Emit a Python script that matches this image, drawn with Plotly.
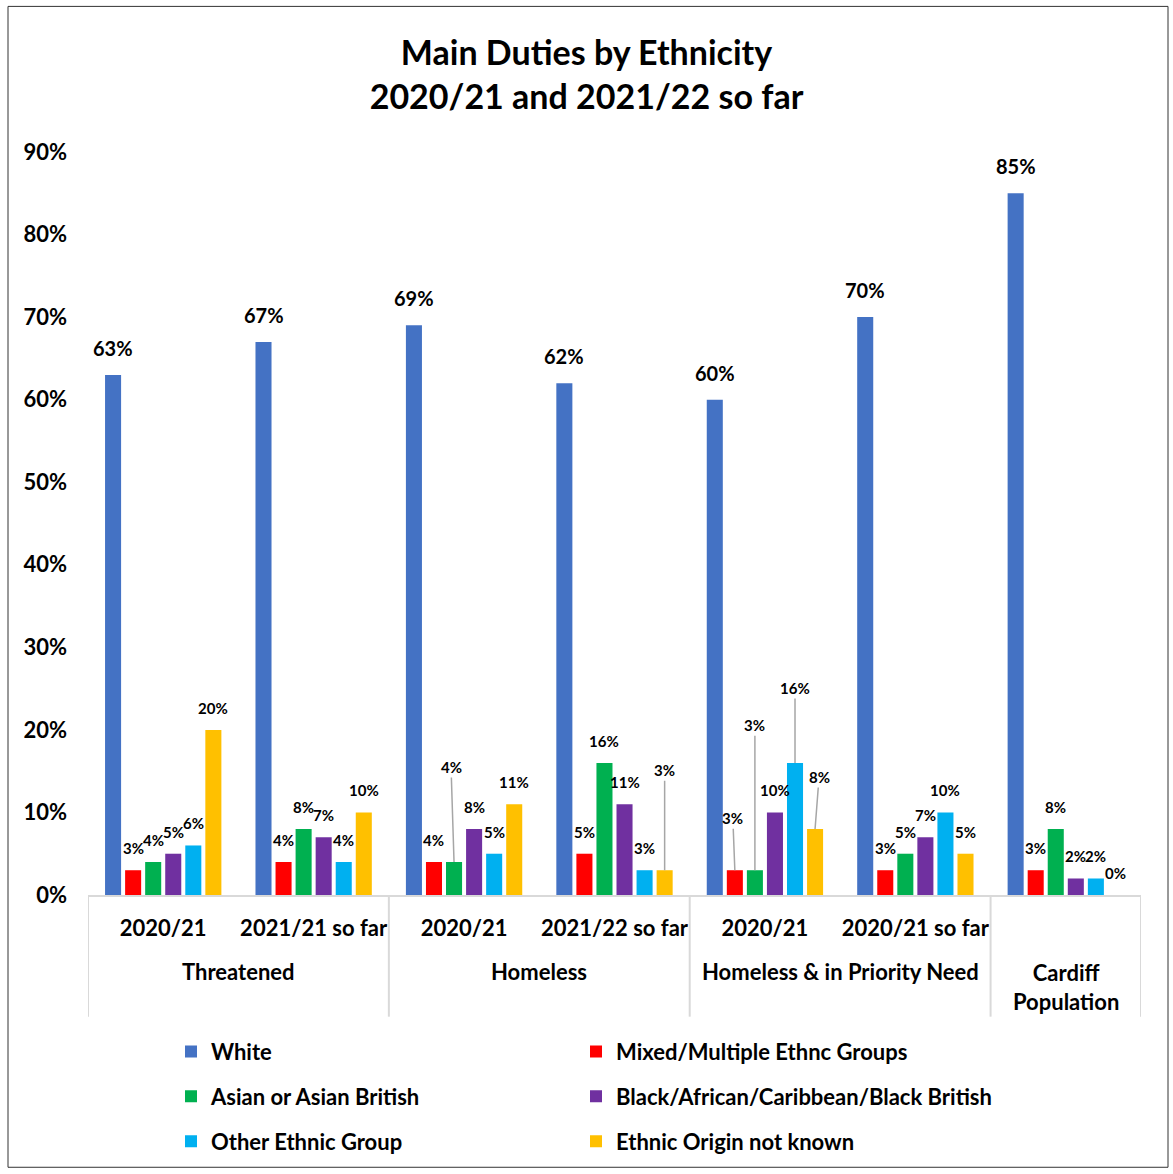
import plotly.graph_objects as go

# ---------------- data ----------------
groups = ["Threatened", "Threatened", "Homeless", "Homeless",
          "Homeless & in Priority Need", "Homeless & in Priority Need",
          "Cardiff<br>Population"]
periods = ["2020/21", "2021/21 so far", "2020/21", "2021/22 so far",
           "2020/21", "2020/21 so far", ""]

series_names = ["White", "Mixed/Multiple Ethnc Groups", "Asian or Asian British",
                "Black/African/Caribbean/Black British", "Other Ethnic Group",
                "Ethnic Origin not known"]
white = [63, 67, 69, 62, 60, 70, 85]
mixed = [3, 4, 4, 5, 3, 3, 3]
asian = [4, 8, 4, 16, 3, 5, 8]
black = [5, 7, 8, 11, 10, 7, 2]
other = [6, 4, 5, 3, 16, 10, 2]
unknown = [20, 10, 11, 3, 8, 5, 0]
series_values = [white, mixed, asian, black, other, unknown]

y_ticks = [0, 10, 20, 30, 40, 50, 60, 70, 80, 90]
y_tick_labels = [f"{v}%" for v in y_ticks]

# ---------------- style ----------------
colors = ["#4472C4", "#FF0000", "#00B050", "#7030A0", "#00B0F0", "#FFC000"]
FONT = "Lato"
W, H = 1173, 1174
L, R, T, B = 88, 32, 152, 277
PW, PH = W - L - R, H - T - B
BARGAP = 0.2
NSER = len(series_names)

# legend slot (pixel) for each series: two columns, three rows
legend_cols_px = [171, 576]
legend_rows_px = [1054, 1099, 1144]

# labels with leader lines: (category index, series index) -> (ax, ay) in px
leader = {(2, 2): (-3, -95), (3, 5): (0, -100), (4, 1): (-2, -52),
          (4, 2): (0, -145), (4, 4): (0, -75), (4, 5): (4, -52)}


def px_x(p):
    return (p - L) / PW


def px_y(p):
    return (H - B - p) / PH


def bold(size):
    return dict(family=FONT, size=size, color="black", weight="bold")


xs = list(range(len(periods)))

fig = go.Figure()
legend_layouts = {}
for si, (name, vals, col) in enumerate(zip(series_names, series_values, colors)):
    lg = "legend" if si == 0 else f"legend{si + 1}"
    fig.add_trace(go.Bar(x=xs, y=vals, name=name, marker_color=col,
                         marker_line_width=0, legend=lg, showlegend=True))
    legend_layouts[lg] = dict(
        x=px_x(legend_cols_px[si % 2]), y=px_y(legend_rows_px[si // 2]),
        orientation="h", xanchor="left", yanchor="middle",
        bgcolor="rgba(0,0,0,0)", font=bold(22), visible=True)

annotations = []
slot = (1 - BARGAP) / NSER
for si, vals in enumerate(series_values):
    off = -(1 - BARGAP) / 2 + slot * (si + 0.5)
    for ci, v in enumerate(vals):
        big = si == 0
        fsize = 20 if big else 15
        if (ci, si) in leader:
            ax, ay = leader[(ci, si)]
            annotations.append(dict(
                x=ci + off, y=v, xref="x", yref="y", text=f"{v}%",
                showarrow=True, arrowhead=0, arrowwidth=1.5, arrowcolor="#A6A6A6",
                ax=ax, ay=ay, standoff=0, font=bold(fsize)))
        else:
            annotations.append(dict(
                x=ci + off, y=v, xref="x", yref="y", text=f"{v}%",
                showarrow=False, yshift=27 if big else 22, yanchor="middle",
                font=bold(fsize)))

# outer group labels and dividers
shapes = []
bounds = [-0.5]
for i in range(1, len(groups)):
    if groups[i] != groups[i - 1]:
        bounds.append(i - 0.5)
bounds.append(len(groups) - 0.5)
for a, b in zip(bounds[:-1], bounds[1:]):
    g = groups[int(a + 0.5)]
    two = "<br>" in g
    annotations.append(dict(
        x=(a + b) / 2, y=px_y(989 if two else 974), xref="x", yref="paper",
        text=g, showarrow=False, yanchor="middle", font=bold(22)))
for bx in bounds:
    shapes.append(dict(type="line", xref="x", yref="paper", x0=bx, x1=bx,
                       y0=0, y1=px_y(1019), line=dict(color="#D9D9D9", width=2)))

# outer chart border
shapes.append(dict(type="rect", xref="paper", yref="paper",
                   x0=px_x(8), x1=px_x(1168), y0=px_y(1170), y1=px_y(6),
                   line=dict(color="#333333", width=1), layer="below"))

fig.update_layout(
    width=W, height=H,
    margin=dict(l=L, r=R, t=T, b=B),
    paper_bgcolor="white", plot_bgcolor="white",
    showlegend=True,
    font=dict(family=FONT, color="black", weight="bold"),
    title=dict(text="Main Duties by Ethnicity<br>2020/21 and 2021/22 so far",
               x=0.5, xref="container", xanchor="center",
               y=1 - 65 / H, yref="container", yanchor="middle",
               font=bold(34)),
    barmode="group", bargap=BARGAP, bargroupgap=0.2,
    xaxis=dict(range=[-0.5, 6.5], tickvals=xs, ticktext=periods,
               showgrid=False, zeroline=False, showline=True,
               linecolor="#D9D9D9", linewidth=2, ticks="",
               ticklabelstandoff=13, tickfont=bold(22)),
    yaxis=dict(range=[0, 90], tickvals=y_ticks, ticktext=y_tick_labels,
               showgrid=False, zeroline=False, showline=False, ticks="",
               ticklabelstandoff=20, tickfont=bold(22)),
    annotations=annotations,
    shapes=shapes,
    **legend_layouts,
)

fig.write_html("out.html", config={"displayModeBar": False},
               post_script="document.body.style.margin='0';")
